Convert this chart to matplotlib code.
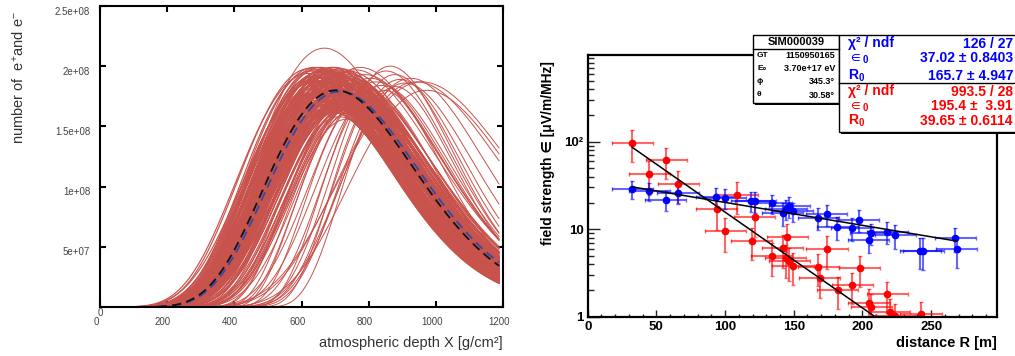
import numpy as np
import matplotlib
matplotlib.use("Agg")
import matplotlib.pyplot as plt
from matplotlib.patches import Rectangle
from matplotlib.lines import Line2D
from matplotlib.ticker import FixedLocator, MultipleLocator, LogLocator, NullFormatter

W, H = 1015, 356

plt.rcParams['font.family'] = ['Liberation Sans', 'DejaVu Sans']
plt.rcParams['mathtext.fontset'] = 'custom'
plt.rcParams['mathtext.rm'] = 'Liberation Sans'
plt.rcParams['mathtext.it'] = 'Liberation Sans:italic'
plt.rcParams['mathtext.bf'] = 'Liberation Sans:bold'
plt.rcParams['mathtext.fallback'] = 'stixsans'
plt.rcParams['mathtext.default'] = 'regular'

# ---- left panel: simulated shower profiles (Gaisser-Hillas parameters) ----
# Xmax in g/cm2, Nmax in units of 1e8, first interaction depth X0 = 0
band_xmax = [628, 633, 637, 640, 643, 646, 648, 651, 653, 655,
             657, 659, 661, 662, 664, 666, 667, 669, 670, 672,
             673, 675, 676, 677, 679, 680, 681, 683, 684, 685,
             686, 688, 689, 690, 691, 692, 694, 695, 696, 697,
             698, 700, 701, 702, 703, 704, 705, 707, 708, 709,
             710, 711, 712, 714, 715, 716, 717, 718, 720, 721,
             722, 723, 725, 726, 727, 729, 730, 731, 733, 734,
             736, 737, 739, 741, 743, 745, 747, 750, 753, 756]
band_nmax = [1.96, 1.88, 1.99, 1.92, 1.84, 1.97, 1.90, 1.79, 1.95, 1.86,
             1.99, 1.82, 1.93, 1.75, 1.88, 1.97, 1.80, 1.91, 1.70, 1.85,
             1.98, 1.77, 1.89, 1.94, 1.72, 1.83, 1.96, 1.68, 1.87, 1.79,
             1.92, 1.74, 1.99, 1.81, 1.66, 1.90, 1.85, 1.76, 1.95, 1.70,
             1.88, 1.82, 1.65, 1.97, 1.78, 1.86, 1.73, 1.93, 1.80, 1.67,
             1.91, 1.84, 1.75, 1.98, 1.69, 1.87, 1.79, 1.94, 1.72, 1.83,
             1.66, 1.89, 1.77, 1.95, 1.70, 1.85, 1.74, 1.92, 1.68, 1.81,
             1.88, 1.73, 1.96, 1.67, 1.84, 1.78, 1.90, 1.71, 1.86, 1.76]

# more band showers with a shifted first interaction point
band2_xmax = [620, 624, 631, 636, 642, 647, 650, 654, 658, 663,
              665, 668, 671, 674, 678, 682, 687, 693, 699, 706,
              713, 719, 724, 728, 732, 735, 738, 742, 746, 751,
              755, 759, 763, 767, 771, 644, 656, 678, 690, 702,
              716, 728, 740, 752, 764, 676, 688, 698, 710, 722]
band2_nmax = [1.94, 1.98, 1.86, 1.91, 1.78, 1.99, 1.83, 1.72, 1.90, 1.96,
              1.68, 1.87, 1.77, 1.93, 1.64, 1.81, 1.71, 1.95, 1.63, 1.76,
              1.84, 1.65, 1.91, 1.69, 1.79, 1.64, 1.86, 1.70, 1.75, 1.66,
              1.80, 1.68, 1.73, 1.65, 1.70, 1.88, 1.74, 1.98, 1.67, 1.92,
              1.71, 1.95, 1.66, 1.83, 1.68, 1.85, 1.62, 1.99, 1.64, 1.78]
band2_x0 = [-60, -40, -20, 30, -50, 20, 40, -30, 60, -10,
            50, -40, 70, -20, 80, 10, 90, -30, 100, 40,
            -20, 120, 30, 110, 60, 130, 0, 140, 90, 150,
            70, 160, 120, 170, 150, -80, 60, -50, 110, -30,
            100, -10, 140, 50, 160, 30, 150, -60, 130, 20]

# showers that stand out of the band (late / narrow / low ones)
odd_xmax = [668, 760, 775, 790, 805, 822, 838, 852, 864, 878, 893, 908, 925, 942,
            958, 972, 700, 712, 724, 736, 748, 705, 730, 762, 785, 818, 846, 880]
odd_nmax = [2.15, 1.97, 1.99, 1.93, 1.90, 1.87, 1.84, 1.96, 2.00, 1.93, 1.89, 1.86, 1.90, 1.87,
            1.87, 1.80, 1.61, 1.58, 1.63, 1.56, 1.62, 1.66, 1.64, 1.69, 1.72, 1.76, 1.80, 1.83]
odd_x0 = [0, 0, 40, 80, 120, 160, 200, 260, 300, 320, 340, 300, 250, 100,
          50, 150, 220, 260, 300, 330, 360, 180, 280, 320, 360, 400, 430, 450]
odd_lam = [70, 70, 68, 66, 64, 62, 62, 60, 58, 60, 62, 64, 66, 70,
           72, 70, 78, 80, 80, 82, 80, 75, 78, 76, 74, 70, 66, 64]

mean_xmax, mean_nmax = 703, 1.80      # black dashed
fit_xmax, fit_nmax = 714, 1.79        # blue dashed

left_yticks = [0, 5e7, 1e8, 1.5e8, 2e8, 2.5e8]
left_ylabels = ['0', '5e+07', '1e+08', '1.5e+08', '2e+08', '2.5e+08']
left_xticks = [0, 200, 400, 600, 800, 1000, 1200]

# ---- right panel: radio field strength vs distance ----
red_r = [32.5, 44.9, 57.1, 66.1, 93.8, 100.3, 109.0, 119.3, 121.5, 134.1, 141.9, 145.3, 144.3, 146.7,
         149.4, 167.9, 168.8, 174.2, 181.9, 192.6, 198.0, 204.8, 206.5, 218.2, 219.9, 224.0, 242.7]
red_e = [96.7, 42.4, 61.3, 32.9, 16.9, 9.46, 24.8, 7.4, 13.7, 4.9, 6.15, 8.07, 4.69, 4.33,
         3.83, 3.73, 2.75, 5.94, 2.02, 2.30, 3.6, 1.45, 1.30, 1.80, 1.14, 1.01, 1.06]
red_de = [38, 18, 24, 13, 7.0, 4.0, 10, 3.0, 5.5, 2.0, 2.5, 3.3, 1.9, 1.8,
          1.5, 1.5, 1.1, 2.4, 0.8, 0.9, 1.4, 0.6, 0.5, 0.7, 0.45, 0.4, 0.42]

blue_r = [32.5, 44.9, 56.8, 65.8, 93.5, 100.3, 119.0, 121.9, 134.1, 141.9, 144.4, 146.7, 149.2,
          168.0, 173.9, 181.7, 192.4, 197.4, 204.6, 206.0, 218.0, 224.0, 242.2, 244.2, 267.7, 268.8]
blue_e = [29.0, 27.5, 21.6, 25.9, 23.3, 23.0, 21.2, 21.0, 19.9, 15.3, 17.1, 18.4, 16.1,
          13.6, 15.0, 10.7, 10.4, 12.8, 7.5, 9.1, 9.4, 8.5, 5.7, 5.65, 7.9, 5.9]
blue_de = [7, 6.5, 5.5, 6.5, 6, 6, 5.5, 5.5, 5, 4.5, 4.5, 5, 4,
           3.8, 4, 3.2, 3, 3.6, 2.1, 2.5, 2.6, 2.6, 2.2, 2.2, 2.4, 2.3]
dist_err = 15.0

blue_eps0, blue_r0 = 37.02, 165.7
red_eps0, red_r0 = 195.4, 39.65

sim_rows = [('GT', '1150950165'), ('E₀', '3.70e+17 eV'), ('ϕ', '345.3°'), ('θ', '30.58°')]
blue_rows = [('χ² / ndf', '126 / 27'), (r'$\in_{\mathbf{0}}$', '37.02 ± 0.8403'),
             (r'$\mathbf{R_{0}}$', '165.7 ± 4.947')]
red_rows = [('χ² / ndf', '993.5 / 28'), (r'$\in_{\mathbf{0}}$', '195.4 ±  3.91'),
            (r'$\mathbf{R_{0}}$', '39.65 ± 0.6114')]


def gaisser_hillas(x, nmax, xmax, x0=0.0, lam=70.0):
    t = np.clip(x - x0, 1e-9, None)
    n = nmax * (t / (xmax - x0)) ** ((xmax - x0) / lam) * np.exp((xmax - x) / lam)
    return np.where(x > x0, n, 0.0)


def fx(px):
    return px / W


def fy(py):
    return 1 - py / H


fig = plt.figure(figsize=(W / 100, H / 100), dpi=100)

# ================= left panel =================
ax1 = fig.add_axes([fx(100), fy(307), 403 / W, 301 / H])
depth = np.linspace(0, 1188, 500)
red_col = '#c8524c'
for xm, nm in zip(band_xmax, band_nmax):
    ax1.plot(depth, gaisser_hillas(depth, nm * 1e8, xm), color=red_col, lw=0.85)
for xm, nm, x0 in zip(band2_xmax, band2_nmax, band2_x0):
    ax1.plot(depth, gaisser_hillas(depth, nm * 1e8, xm, x0), color=red_col, lw=0.85)
for xm, nm, x0, lam in zip(odd_xmax, odd_nmax, odd_x0, odd_lam):
    ax1.plot(depth, gaisser_hillas(depth, nm * 1e8, xm, x0, lam), color=red_col, lw=0.7)
ax1.plot(depth, gaisser_hillas(depth, fit_nmax * 1e8, fit_xmax), color='#2a4cb0',
         lw=1.3, dashes=(5, 3))
ax1.plot(depth, gaisser_hillas(depth, mean_nmax * 1e8, mean_xmax), color='#111111',
         lw=1.3, dashes=(5, 3))

ax1.set_xlim(0, 1200)
ax1.set_ylim(0, 2.5e8)
ax1.set_xticks(left_xticks)
ax1.set_yticks(left_yticks)
ax1.set_xticklabels([])
ax1.set_yticklabels([])
ax1.tick_params(direction='in', length=4, width=1.5, top=True, right=True)
for s in ax1.spines.values():
    s.set_linewidth(1.5)
for v, lab in zip(left_yticks, left_ylabels):
    dx = 2 if v == 0 else -7
    ax1.annotate(lab, xy=(0, v), xycoords=('axes fraction', 'data'), xytext=(dx, -4),
                 textcoords='offset points', ha='right', va='center', fontsize=7, color='#444')
for v in left_xticks:
    ax1.annotate(str(v), xy=(v, 0), xycoords=('data', 'axes fraction'), xytext=(-3, -11),
                 textcoords='offset points', ha='center', va='center', fontsize=7, color='#444')
fig.text(fx(19), fy(78), r'number of  e$^{+}$and e$^{-}$', rotation=90, ha='center',
         va='center', fontsize=10.5, color='#333')
fig.text(fx(503), fy(343), 'atmospheric depth X [g/cm²]', ha='right', va='center',
         fontsize=10.5, color='#333')

# ================= right panel =================
ax2 = fig.add_axes([fx(587.7), fy(316.7), (997 - 587.7) / W, (316.7 - 55) / H])
ax2.set_yscale('log')
ax2.errorbar(red_r, red_e, xerr=dist_err, yerr=red_de, fmt='o', color='red', ms=4.5,
             ecolor=(1, 0, 0, 0.6), elinewidth=1.5, capsize=1.3, capthick=1.0, zorder=2)
ax2.errorbar(blue_r, blue_e, xerr=dist_err, yerr=blue_de, fmt='o', color='blue', ms=4.5,
             ecolor=(0, 0, 1, 0.6), elinewidth=1.5, capsize=1.3, capthick=1.0, zorder=2)
rr = np.linspace(min(blue_r), max(blue_r), 200)
ax2.plot(rr, blue_eps0 * np.exp(-rr / blue_r0), color='black', lw=1.1, zorder=3)
ax2.plot(rr, red_eps0 * np.exp(-rr / red_r0), color='black', lw=1.1, zorder=3)

ax2.set_xlim(0, 298)
ax2.set_ylim(1, 980)
ax2.xaxis.set_major_locator(MultipleLocator(50))
ax2.xaxis.set_minor_locator(MultipleLocator(10))
ax2.yaxis.set_major_locator(FixedLocator([1, 10, 100]))
ax2.yaxis.set_minor_locator(LogLocator(base=10, subs=np.arange(2, 10)))
ax2.yaxis.set_minor_formatter(NullFormatter())
ax2.set_yticklabels(['1', '10', '10²'])
ax2.tick_params(axis='x', which='major', direction='in', length=4.8, width=1.0, colors='#222')
ax2.tick_params(axis='x', which='minor', direction='in', length=2.4, width=1.0, colors='#222')
ax2.tick_params(axis='y', which='major', direction='in', length=8.6, width=1.0, colors='#222')
ax2.tick_params(axis='y', which='minor', direction='in', length=4.3, width=1.0, colors='#222')
ax2.tick_params(axis='both', which='major', labelsize=9.5, labelcolor='black', pad=3)
for lab in ax2.get_xticklabels() + ax2.get_yticklabels():
    lab.set_fontweight('bold')
for s in ax2.spines.values():
    s.set_linewidth(1.6)

fig.text(fx(548), fy(153), 'field strength ∈ [μV/m/MHz]', rotation=90, ha='center',
         va='center', fontsize=10, fontweight='bold')
fig.text(fx(997), fy(343), 'distance R [m]', ha='right', va='center', fontsize=10.5,
         fontweight='bold')


def box(x0, y0, x1, y1, shadow=2):
    fig.add_artist(Rectangle((fx(x0 + shadow), fy(y1 + shadow)), (x1 - x0) / W, (y1 - y0) / H,
                             transform=fig.transFigure, facecolor='black', edgecolor='none'))
    fig.add_artist(Rectangle((fx(x0), fy(y1)), (x1 - x0) / W, (y1 - y0) / H,
                             transform=fig.transFigure, facecolor='white', edgecolor='black',
                             lw=1.0))


def hline(x0, x1, y):
    fig.add_artist(Line2D([fx(x0), fx(x1)], [fy(y), fy(y)], transform=fig.transFigure,
                          color='black', lw=1.0))


# stats box of the event
box(752.7, 34.7, 839.3, 103)
hline(752.7, 839.3, 49)
fig.text(fx(796), fy(42), 'SIM000039', ha='center', va='center', fontsize=8, fontweight='bold')
for (lab, val), y in zip(sim_rows, [55.5, 68.5, 81.5, 95]):
    fig.text(fx(757), fy(y), lab, ha='left', va='center', fontsize=6, fontweight='bold')
    fig.text(fx(835), fy(y), val, ha='right', va='center', fontsize=6.5, fontweight='bold')

# fit results box
box(839.3, 34.7, 1030, 131.5)
hline(839.3, 1030, 83.3)
for rows, col, ys in [(blue_rows, 'blue', [43.5, 58.5, 75.5]), (red_rows, 'red', [91.5, 106.5, 121])]:
    for (lab, val), y in zip(rows, ys):
        fig.text(fx(848), fy(y), lab, ha='left', va='center', fontsize=10, fontweight='bold',
                 color=col)
        fig.text(fx(1013), fy(y), val, ha='right', va='center', fontsize=10, fontweight='bold',
                 color=col)

fig.savefig('out.png', dpi=100)
